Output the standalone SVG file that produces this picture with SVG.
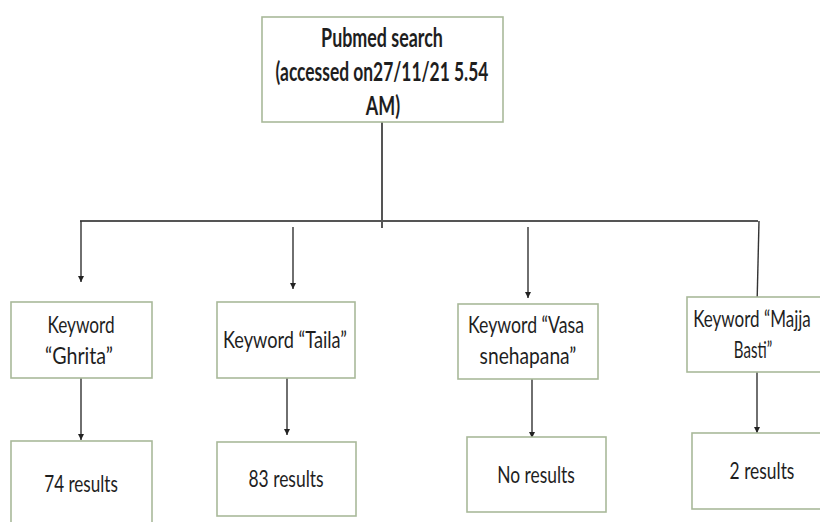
<svg xmlns="http://www.w3.org/2000/svg" width="820" height="522" viewBox="0 0 820 522">
<style>
.box{fill:#ffffff;stroke:#a9b99a;stroke-width:1.6}
.t{font-family:Lato,"Liberation Sans",sans-serif;font-size:23px;fill:#1e1e1e;text-anchor:middle}
.tb{font-family:Lato,"Liberation Sans",sans-serif;font-size:26px;font-weight:bold;fill:#1e1e1e;text-anchor:middle}
.ln{stroke:#555555;stroke-width:2;fill:none}
.ar{stroke:#333333;stroke-width:1.4;fill:none;marker-end:url(#ah)}
</style>
<defs>
<marker id="ah" viewBox="0 0 10 10" refX="10" refY="5" markerWidth="8" markerHeight="6" markerUnits="userSpaceOnUse" orient="auto">
<path d="M0,0 L10,5 L0,10 z" fill="#222222"/>
</marker>
</defs>
<rect width="820" height="522" fill="#ffffff"/>
<g id="connectors">
<line class="ln" x1="382" y1="122" x2="382" y2="228"/>
<line class="ln" x1="80" y1="221" x2="758" y2="221"/>
<line class="ar" x1="81" y1="221" x2="81" y2="282"/>
<line class="ar" x1="293" y1="227" x2="293" y2="289"/>
<line class="ar" x1="528" y1="227" x2="528" y2="298"/>
<line class="ar" x1="759" y1="221" x2="757" y2="306"/>
<line class="ar" x1="81" y1="378" x2="81" y2="440"/>
<line class="ar" x1="287" y1="378" x2="287" y2="435"/>
<line class="ar" x1="532" y1="379" x2="532" y2="438"/>
<line class="ar" x1="757" y1="372" x2="757" y2="433"/>
</g>
<g id="pubmed">
<rect class="box" x="262" y="17" width="241" height="105"/>
<text class="tb" transform="translate(382,47) scale(0.7,1)" textLength="174" lengthAdjust="spacingAndGlyphs">Pubmed search</text>
<text class="tb" transform="translate(382,81) scale(0.7,1)" textLength="304" lengthAdjust="spacingAndGlyphs">(accessed on27/11/21 5.54</text>
<text class="tb" transform="translate(383,115) scale(0.7,1)" textLength="49" lengthAdjust="spacingAndGlyphs">AM)</text>
</g>
<g id="ghrita">
<rect class="box" x="11" y="302" width="141" height="76"/>
<text class="t" transform="translate(81,333) scale(0.8,1)" textLength="84" lengthAdjust="spacingAndGlyphs">Keyword</text>
<text class="t" transform="translate(79,364) scale(0.8,1)" textLength="85" lengthAdjust="spacingAndGlyphs">“Ghrita”</text>
</g>
<g id="taila">
<rect class="box" x="217" y="302" width="138" height="76"/>
<text class="t" transform="translate(285,348) scale(0.8,1)" textLength="155" lengthAdjust="spacingAndGlyphs">Keyword “Taila”</text>
</g>
<g id="vasa">
<rect class="box" x="458" y="304" width="140" height="75"/>
<text class="t" transform="translate(526,333) scale(0.8,1)" textLength="145" lengthAdjust="spacingAndGlyphs">Keyword “Vasa</text>
<text class="t" transform="translate(528,364) scale(0.8,1)" textLength="121" lengthAdjust="spacingAndGlyphs">snehapana”</text>
</g>
<g id="majja">
<rect class="box" x="687" y="297" width="143" height="75"/>
<text class="t" transform="translate(752,327) scale(0.8,1)" textLength="147" lengthAdjust="spacingAndGlyphs">Keyword “Majja</text>
<text class="t" transform="translate(753,358) scale(0.8,1)" textLength="48" lengthAdjust="spacingAndGlyphs">Basti”</text>
</g>
<g id="res-ghrita">
<rect class="box" x="11" y="441" width="141" height="90"/>
<text class="t" transform="translate(81,492) scale(0.8,1)" textLength="92" lengthAdjust="spacingAndGlyphs">74 results</text>
</g>
<g id="res-taila">
<rect class="box" x="217" y="442" width="139" height="74"/>
<text class="t" transform="translate(286,487) scale(0.8,1)" textLength="94" lengthAdjust="spacingAndGlyphs">83 results</text>
</g>
<g id="res-vasa">
<rect class="box" x="467" y="437" width="139" height="75"/>
<text class="t" transform="translate(536,483) scale(0.8,1)" textLength="97" lengthAdjust="spacingAndGlyphs">No results</text>
</g>
<g id="res-majja">
<rect class="box" x="692" y="433" width="138" height="76"/>
<text class="t" transform="translate(762,479) scale(0.8,1)" textLength="81" lengthAdjust="spacingAndGlyphs">2 results</text>
</g>
</svg>
